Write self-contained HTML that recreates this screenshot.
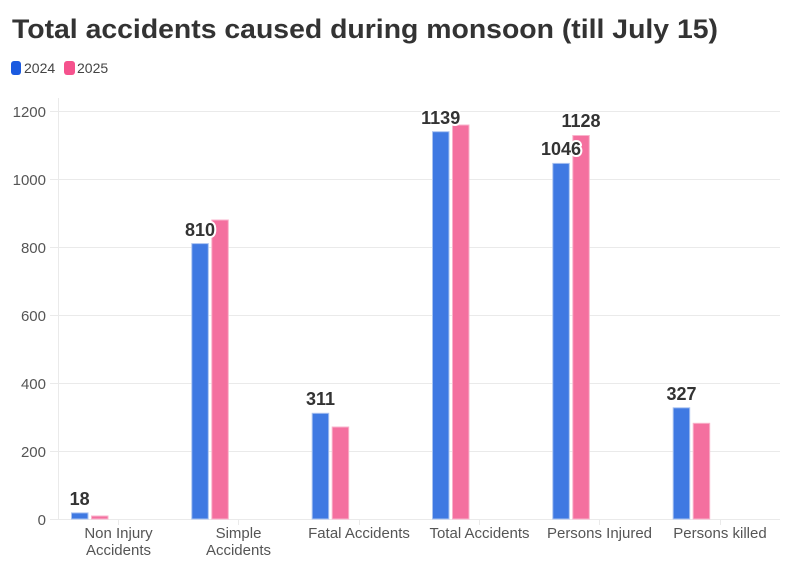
<!DOCTYPE html>
<html><head><meta charset="utf-8"><style>
html,body{margin:0;padding:0;background:#fff;}
svg{display:block;font-family:"Liberation Sans",sans-serif;}
.yl{font-size:15px;fill:#555;text-anchor:end;}
.xl{font-size:15px;fill:#555;text-anchor:middle;}
.vl{font-size:18px;font-weight:bold;fill:#333;text-anchor:middle;paint-order:stroke;stroke:#fff;stroke-width:4px;stroke-linejoin:round;}
.b{fill:#3f79e2;stroke:#a9c2f0;stroke-width:1;}
.p{fill:#f4709f;stroke:#f9b3cc;stroke-width:1;}
.g{stroke:#eaeaea;stroke-width:1;}
</style></head><body>
<svg width="794" height="570" viewBox="0 0 794 570">
<text x="12" y="38" font-size="27" font-weight="bold" fill="#333" textLength="706" lengthAdjust="spacingAndGlyphs">Total accidents caused during monsoon (till July 15)</text>
<rect x="11" y="61" width="10" height="14" rx="3" fill="#1a5ae0"/>
<text x="24" y="73" font-size="14" fill="#444">2024</text>
<rect x="64" y="61" width="11" height="14" rx="3" fill="#f5528d"/>
<text x="77" y="73" font-size="14" fill="#444">2025</text>
<!-- grid -->
<g class="g">
<line x1="50" y1="111.5" x2="780" y2="111.5"/>
<line x1="50" y1="179.5" x2="780" y2="179.5"/>
<line x1="50" y1="247.5" x2="780" y2="247.5"/>
<line x1="50" y1="315.5" x2="780" y2="315.5"/>
<line x1="50" y1="383.5" x2="780" y2="383.5"/>
<line x1="50" y1="451.5" x2="780" y2="451.5"/>
<line x1="50" y1="519.5" x2="780" y2="519.5"/>
<line x1="58.5" y1="98" x2="58.5" y2="519"/>
<line x1="118.5" y1="519" x2="118.5" y2="525"/>
<line x1="238.5" y1="519" x2="238.5" y2="525"/>
<line x1="359.5" y1="519" x2="359.5" y2="525"/>
<line x1="479.5" y1="519" x2="479.5" y2="525"/>
<line x1="599.5" y1="519" x2="599.5" y2="525"/>
<line x1="720.5" y1="519" x2="720.5" y2="525"/>
</g>
<text class="yl" x="46" y="117">1200</text>
<text class="yl" x="46" y="185">1000</text>
<text class="yl" x="46" y="253">800</text>
<text class="yl" x="46" y="321">600</text>
<text class="yl" x="46" y="389">400</text>
<text class="yl" x="46" y="457">200</text>
<text class="yl" x="46" y="525">0</text>
<!-- bars -->
<rect class="b" x="71.5" y="512.9" width="16.5" height="6.1"/>
<rect class="p" x="91.5" y="516" width="16.5" height="3"/>
<rect class="b" x="191.8" y="243.6" width="16.5" height="275.4"/>
<rect class="p" x="211.8" y="220" width="16.5" height="299"/>
<rect class="b" x="312.2" y="413.3" width="16.5" height="105.7"/>
<rect class="p" x="332.2" y="427" width="16.5" height="92"/>
<rect class="b" x="432.5" y="131.7" width="16.5" height="387.3"/>
<rect class="p" x="452.5" y="125" width="16.5" height="394"/>
<rect class="b" x="552.8" y="163.4" width="16.5" height="355.6"/>
<rect class="p" x="572.8" y="135.5" width="16.5" height="383.5"/>
<rect class="b" x="673.2" y="407.8" width="16.5" height="111.2"/>
<rect class="p" x="693.2" y="423.3" width="16.5" height="95.7"/>
<!-- value labels -->
<text class="vl" x="79.7" y="505">18</text>
<text class="vl" x="200" y="236">810</text>
<text class="vl" x="320.5" y="405">311</text>
<text class="vl" x="440.7" y="124">1139</text>
<text class="vl" x="561" y="155">1046</text>
<text class="vl" x="581" y="127">1128</text>
<text class="vl" x="681.5" y="400">327</text>
<!-- category labels -->
<text class="xl" x="118.5" y="538">Non Injury</text>
<text class="xl" x="118.5" y="555">Accidents</text>
<text class="xl" x="238.5" y="538">Simple</text>
<text class="xl" x="238.5" y="555">Accidents</text>
<text class="xl" x="359" y="538">Fatal Accidents</text>
<text class="xl" x="479.5" y="538">Total Accidents</text>
<text class="xl" x="599.5" y="538">Persons Injured</text>
<text class="xl" x="720" y="538">Persons killed</text>
</svg>
</body></html>
